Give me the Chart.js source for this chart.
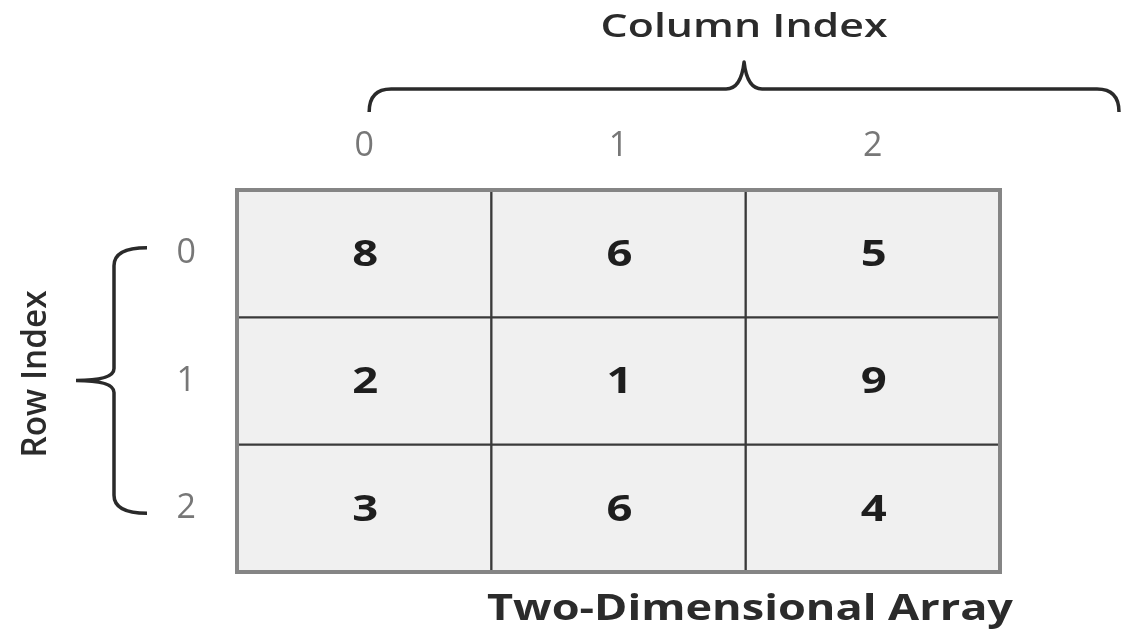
<!DOCTYPE html>
<html>
<head>
<meta charset="utf-8">
<script src="https://cdn.jsdelivr.net/npm/chart.js@4.4.1/dist/chart.umd.min.js"></script>
<style>
  html, body { margin: 0; padding: 0; background: #fff; }
  #wrap { width: 1123px; height: 639px; position: relative; }
</style>
</head>
<body>
<div id="wrap"><canvas id="arrayChart"></canvas></div>
<script>
// array contents, one list per row
const colLabels = ["0", "1", "2"];
const rowLabels = ["0", "1", "2"];
const row0 = [8, 6, 5];
const row1 = [2, 1, 9];
const row2 = [3, 6, 4];
const rows = [row0, row1, row2];

// draws text centred on (cx, cy) and stretched to a given width
function fitText(ctx, text, cx, cy, font, width, angle) {
    ctx.save();
    ctx.translate(cx, cy);
    ctx.rotate(angle || 0);
    ctx.font = font;
    ctx.textAlign = "center";
    ctx.textBaseline = "middle";
    const w = ctx.measureText(text).width;
    ctx.scale(width / w, 1);
    ctx.fillText(text, 0, 0);
    ctx.restore();
}

const arrayDecor = {
    id: "arrayDecor",
    beforeDraw(chart) {
        const ctx = chart.ctx;
        ctx.save();
        ctx.fillStyle = "#fff";
        ctx.fillRect(0, 0, chart.width, chart.height);
        ctx.restore();
    },
    afterDatasetsDraw(chart) {
        const { ctx, chartArea: a } = chart;

        // outer frame of the grid
        ctx.save();
        ctx.strokeStyle = "#858585";
        ctx.lineWidth = 4;
        ctx.strokeRect(a.left, a.top, a.right - a.left, a.bottom - a.top);
        ctx.restore();

        // cell values
        ctx.save();
        ctx.fillStyle = "#1e1e1e";
        chart.data.datasets.forEach((ds, r) => {
            chart.getDatasetMeta(r).data.forEach((bar, c) => {
                const p = bar.getCenterPoint();
                fitText(ctx, String(ds.values[c]), p.x + 1, p.y + 2, "bold 36px 'Open Sans'", 26);
            });
        });
        ctx.restore();
    },
    afterDraw(chart) {
        const { ctx, scales: { x, y } } = chart;
        ctx.save();
        ctx.strokeStyle = "#2a2a2a";
        ctx.lineWidth = 3.5;
        ctx.lineJoin = "round";

        // column brace
        const x0 = x.getPixelForValue(0) + 5;
        const x1 = chart.width - 4;
        const xm = (x0 + x1) / 2;
        const yLine = 89, yEnd = 112, yPeak = 62;
        ctx.beginPath();
        ctx.moveTo(x0, yEnd);
        ctx.quadraticCurveTo(x0, yLine, x0 + 22, yLine);
        ctx.lineTo(xm - 18, yLine);
        ctx.quadraticCurveTo(xm - 3, yLine, xm, yPeak);
        ctx.quadraticCurveTo(xm + 3, yLine, xm + 18, yLine);
        ctx.lineTo(x1 - 22, yLine);
        ctx.quadraticCurveTo(x1, yLine, x1, yEnd);
        ctx.stroke();

        // row brace
        const xv = 114, hookX = 147, tipX = 76;
        const yTop = y.getPixelForValue(0.5) - 6;
        const yBot = y.getPixelForValue(2.5) + 5;
        const ym = (yTop + yBot) / 2;
        ctx.beginPath();
        ctx.moveTo(hookX, yTop);
        ctx.quadraticCurveTo(xv, yTop, xv, yTop + 18);
        ctx.lineTo(xv, ym - 12);
        ctx.quadraticCurveTo(xv, ym, tipX, ym);
        ctx.moveTo(tipX, ym);
        ctx.quadraticCurveTo(xv, ym, xv, ym + 12);
        ctx.lineTo(xv, yBot - 18);
        ctx.quadraticCurveTo(xv, yBot, hookX, yBot);
        ctx.stroke();

        // titles
        ctx.fillStyle = "#2b2b2b";
        fitText(ctx, "Column Index", xm, 28, "600 32px 'Open Sans'", 287);
        fitText(ctx, "Row Index", 36, 374, "600 34px 'Open Sans'", 167, -Math.PI / 2);
        fitText(ctx, "Two-Dimensional Array", 750, 610, "bold 35px 'Open Sans'", 526);
        ctx.restore();
    }
};

const datasets = rows.map((vals, r) => ({
    label: "Row " + rowLabels[r],
    data: vals.map(() => 1),
    values: vals,
    backgroundColor: "#f0f0f0",
    borderColor: "#3a3a3a",
    borderWidth: 1.5,
    borderSkipped: false,
    barPercentage: 1,
    categoryPercentage: 1
}));

new Chart(document.getElementById("arrayChart"), {
    type: "bar",
    data: { labels: colLabels, datasets: datasets },
    options: {
        responsive: true,
        maintainAspectRatio: false,
        animation: false,
        layout: { padding: { left: 0, top: 0, right: 123, bottom: 67 } },
        plugins: {
            legend: { display: false },
            tooltip: { enabled: false }
        },
        scales: {
            x: {
                position: "top",
                stacked: true,
                grid: { display: false },
                border: { display: false },
                ticks: {
                    padding: 15,
                    color: "#777",
                    font: { family: "'Open Sans'", size: 34 }
                },
                afterFit: s => { s.height = 190; }
            },
            y: {
                stacked: true,
                reverse: true,
                min: 0,
                max: rows.length,
                grid: { display: false },
                border: { display: false },
                afterBuildTicks: s => { s.ticks = rowLabels.map((_, i) => ({ value: i + 0.5 })); },
                ticks: {
                    padding: 33,
                    color: "#777",
                    font: { family: "'Open Sans'", size: 34 },
                    callback: (v, i) => rowLabels[i]
                },
                afterFit: s => { s.width = 237; }
            }
        }
    },
    plugins: [arrayDecor]
});
</script>
</body>
</html>
